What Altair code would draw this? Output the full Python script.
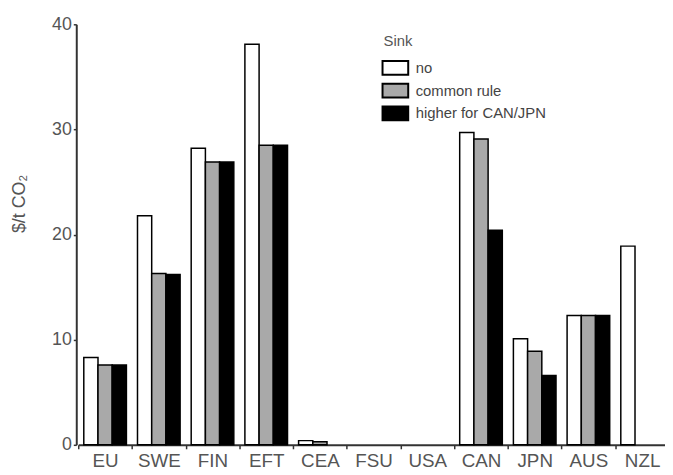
import altair as alt
import pandas as pd

regions = ["EU", "SWE", "FIN", "EFT", "CEA", "FSU", "USA", "CAN", "JPN", "AUS", "NZL"]
series = ["no", "common rule", "higher for CAN/JPN"]
sink_no = [8.3, 21.8, 28.2, 38.1, 0.4, 0, 0, 29.7, 10.1, 12.3, 18.9]
sink_common = [7.6, 16.3, 26.9, 28.5, 0.3, 0, 0, 29.1, 8.9, 12.3, 0]
sink_higher = [7.6, 16.2, 26.9, 28.5, 0, 0, 0, 20.4, 6.6, 12.3, 0]
colors = ["#ffffff", "#a9a9a9", "#000000"]

rows = []
for vals, s in zip([sink_no, sink_common, sink_higher], series):
    for r, v in zip(regions, vals):
        if v > 0:
            rows.append({"region": r, "Sink": s, "value": v})
df = pd.DataFrame(rows)

font = "Liberation Sans"

chart = alt.Chart(df).mark_bar(stroke="black", strokeWidth=1.5).encode(
    x=alt.X("region:N", sort=regions, title=None,
            scale=alt.Scale(domain=regions, paddingInner=0, paddingOuter=0),
            axis=alt.Axis(labelAngle=0, labelFontSize=19, labelColor="#555", labelFont=font,
                          tickBand="extent", tickSize=4, tickColor="#333", tickWidth=1.5,
                          domainColor="#333", domainWidth=2, labelPadding=3)),
    xOffset=alt.XOffset("Sink:N", sort=series,
                        scale=alt.Scale(domain=series, paddingInner=0, paddingOuter=0.39)),
    y=alt.Y("value:Q", title="$/t CO₂",
            scale=alt.Scale(domain=[0, 40], nice=False),
            axis=alt.Axis(values=[0, 10, 20, 30, 40], grid=False, offset=2,
                          labelFontSize=18, labelColor="#555", labelFont=font,
                          tickSize=3, tickColor="#333", tickWidth=1.5,
                          domainColor="#333", domainWidth=2, labelPadding=2,
                          titleFontSize=18, titleFont=font, titleFontWeight="normal",
                          titleColor="#555", titleAngle=-90, titleX=-57, titleY=181,
                          titleAlign="center", titleBaseline="middle")),
    color=alt.Color("Sink:N", sort=series,
                    scale=alt.Scale(domain=series, range=colors),
                    legend=alt.Legend(orient="none", legendX=308.5, legendY=10,
                                      title="Sink", titleFontSize=15, titleFont=font,
                                      titleFontWeight="normal", titleColor="#555",
                                      labelFontSize=15, labelFont=font, labelColor="#444",
                                      symbolType="M-1.18,-0.636H1.18V0.636H-1.18Z", symbolSize=484,
                                      symbolStrokeColor="black", symbolStrokeWidth=2,
                                      symbolOpacity=1, titlePadding=7, rowPadding=0,
                                      labelOffset=8.5)),
).properties(
    width=597, height=425,
    autosize=alt.AutoSizeParams(type="none"),
    padding={"left": 71, "top": 14, "right": -4, "bottom": 26},
).configure_view(stroke=None)

chart.save("out.html", embed_options={"renderer": "svg", "actions": False})
